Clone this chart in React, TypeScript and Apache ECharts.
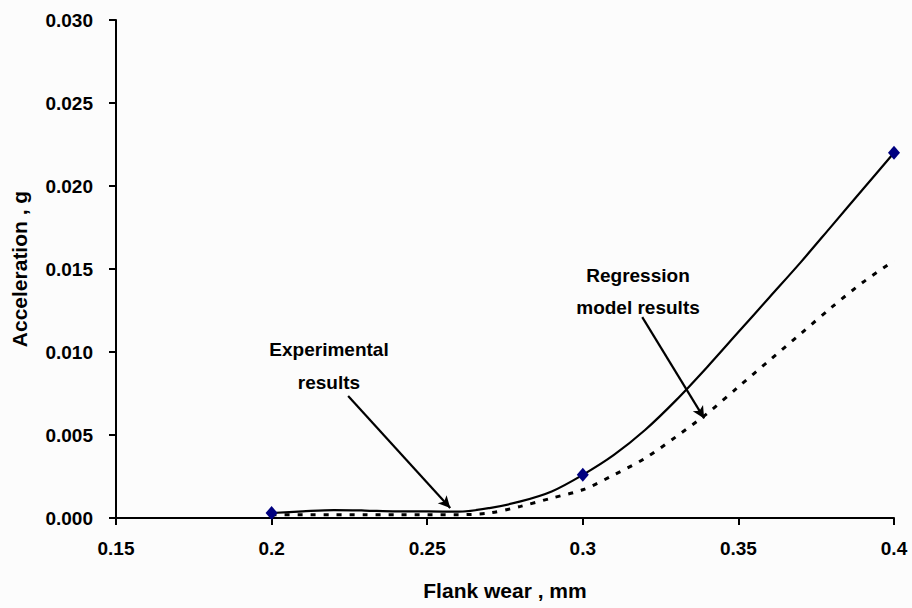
import React, { useEffect, useRef } from "react";
import * as echarts from "echarts";

const expX = [0.2, 0.3, 0.4];
const expY = [0.0003, 0.0026, 0.022];

const curveX = [0.2, 0.21, 0.22, 0.23, 0.24, 0.25, 0.26, 0.27, 0.28, 0.29, 0.3, 0.31, 0.32, 0.33, 0.34, 0.35, 0.36, 0.37, 0.38, 0.39, 0.4];
const expCurveY = [0.0003, 0.0004, 0.00048, 0.00045, 0.0004, 0.0004, 0.00038, 0.0006, 0.001, 0.0016, 0.0026, 0.0038, 0.0053, 0.0071, 0.0091, 0.0112, 0.0133, 0.0154, 0.0176, 0.0198, 0.022];
const regCurveY = [0.0002, 0.0002, 0.0002, 0.0002, 0.0002, 0.0002, 0.0002, 0.0003, 0.0007, 0.0012, 0.0017, 0.0026, 0.0036, 0.0049, 0.0063, 0.0079, 0.0095, 0.0111, 0.0127, 0.0142, 0.0155];

const xTicks = { min: 0.15, max: 0.4, interval: 0.05 };
const yTicks = { min: 0, max: 0.03, interval: 0.005 };

const xTitle = "Flank wear , mm";
const yTitle = "Acceleration , g";
const note1 = "Experimental\nresults";
const note2 = "Regression\nmodel results";
const arrow1 = [[0.2246, 0.00735], [0.2574, 0.0006]];
const arrow2 = [[0.3191, 0.0121], [0.339, 0.006]];

const FONT = 'Arial, "Liberation Sans", sans-serif';

export default function App() {
  const ref = useRef<HTMLDivElement>(null);
  useEffect(() => {
    if (!ref.current) return;
    const chart = echarts.init(ref.current, null, { renderer: "svg" });
    chart.setOption({
      animation: false,
      backgroundColor: "#fcfcfc",
      grid: { left: 116, right: 18, top: 20, bottom: 90, containLabel: false },
      xAxis: {
        type: "value",
        min: xTicks.min,
        max: xTicks.max,
        interval: xTicks.interval,
        name: xTitle,
        nameLocation: "middle",
        nameGap: 62,
        nameTextStyle: { fontFamily: FONT, fontWeight: "bold", fontSize: 21, color: "#000" },
        axisLine: { onZero: false, lineStyle: { color: "#000", width: 2 } },
        axisTick: { show: true, inside: false, length: 7, lineStyle: { color: "#000", width: 2 } },
        axisLabel: {
          margin: 21,
          fontFamily: FONT,
          fontWeight: "bold",
          fontSize: 19,
          color: "#000",
          formatter: (v: number) => String(parseFloat(v.toFixed(2))),
        },
        splitLine: { show: false },
      },
      yAxis: {
        type: "value",
        min: yTicks.min,
        max: yTicks.max,
        interval: yTicks.interval,
        name: yTitle,
        nameLocation: "middle",
        nameGap: 86,
        nameTextStyle: { fontFamily: FONT, fontWeight: "bold", fontSize: 21, color: "#000" },
        axisLine: { show: true, lineStyle: { color: "#000", width: 2 } },
        axisTick: { show: true, inside: false, length: 7, lineStyle: { color: "#000", width: 2 } },
        axisLabel: {
          margin: 23,
          fontFamily: FONT,
          fontWeight: "bold",
          fontSize: 19,
          color: "#000",
          formatter: (v: number) => v.toFixed(3),
        },
        splitLine: { show: false },
      },
      series: [
        {
          name: "Regression model results",
          type: "line",
          smooth: 0.3,
          showSymbol: false,
          data: curveX.map((x, i) => [x, regCurveY[i]]),
          lineStyle: { color: "#000", width: 3, type: [5, 8] },
          z: 2,
        },
        {
          name: "Experimental curve",
          type: "line",
          smooth: 0.3,
          showSymbol: false,
          data: curveX.map((x, i) => [x, expCurveY[i]]),
          lineStyle: { color: "#000", width: 2.2 },
          z: 3,
          markLine: {
            silent: true,
            symbol: ["none", "arrow"],
            symbolSize: [9, 12],
            label: { show: false },
            lineStyle: { color: "#000", width: 2.2, type: "solid" },
            data: [
              [{ coord: arrow1[0] }, { coord: arrow1[1] }],
              [{ coord: arrow2[0] }, { coord: arrow2[1] }],
            ],
          },
        },
        {
          name: "Experimental results",
          type: "scatter",
          symbol: "diamond",
          symbolSize: [12, 14],
          data: expX.map((x, i) => [x, expY[i]]),
          itemStyle: { color: "#000080", opacity: 1 },
          z: 5,
        },
      ],
      graphic: [
        {
          type: "text",
          x: 329,
          y: 333,
          style: {
            text: note1,
            align: "center",
            verticalAlign: "top",
            fontFamily: FONT,
            fontWeight: "bold",
            fontSize: 19,
            lineHeight: 33,
            fill: "#000",
          },
        },
        {
          type: "text",
          x: 638,
          y: 259,
          style: {
            text: note2,
            align: "center",
            verticalAlign: "top",
            fontFamily: FONT,
            fontWeight: "bold",
            fontSize: 19,
            lineHeight: 32,
            fill: "#000",
          },
        },
      ],
    });
    return () => chart.dispose();
  }, []);
  return (
    <div
      ref={ref}
      style={{ position: "absolute", left: 0, top: 0, width: 912, height: 608 }}
    />
  );
}
